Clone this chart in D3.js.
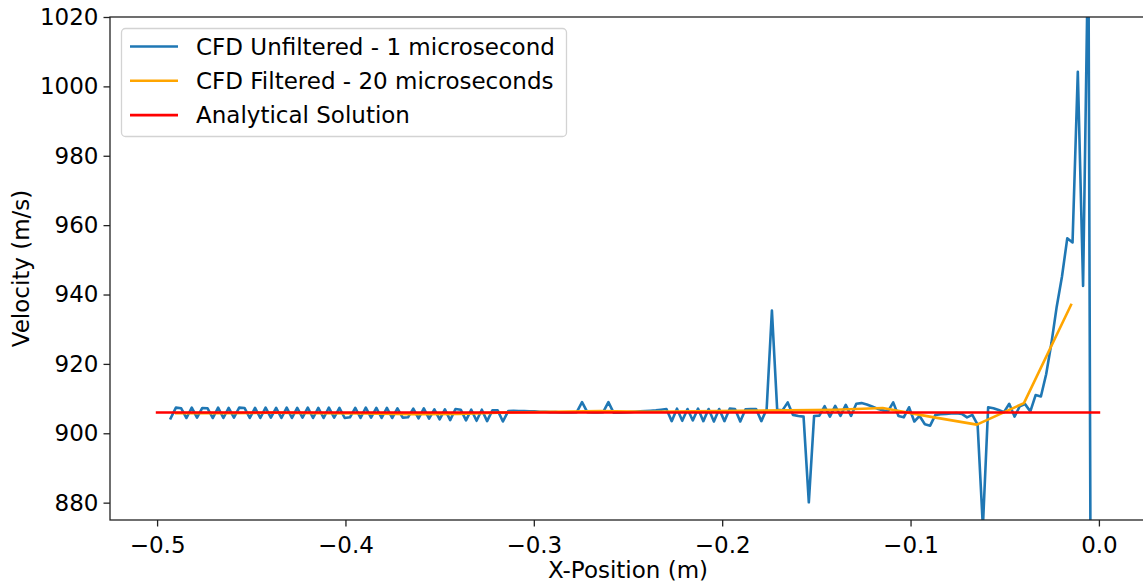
<!DOCTYPE html>
<html>
<head>
<meta charset="utf-8">
<script src="https://cdn.jsdelivr.net/npm/d3@7"></script>
<style>
  html, body { margin: 0; padding: 0; background: #fff; }
  svg { display: block; font-family: "DejaVu Sans", sans-serif; }
</style>
</head>
<body>
<svg id="chart" width="1143" height="584"></svg>
<script>
// Mesh cell-centre positions along the tube (m)
const cellX = [
  -0.4928, -0.4900, -0.4872, -0.4844, -0.4816, -0.4788, -0.4760, -0.4732, -0.4704, -0.4676,
  -0.4648, -0.4620, -0.4592, -0.4564, -0.4536, -0.4508, -0.4480, -0.4452, -0.4424, -0.4396,
  -0.4368, -0.4340, -0.4312, -0.4284, -0.4256, -0.4228, -0.4200, -0.4172, -0.4144, -0.4116,
  -0.4088, -0.4060, -0.4032, -0.4004, -0.3976, -0.3948, -0.3920, -0.3892, -0.3864, -0.3836,
  -0.3808, -0.3780, -0.3752, -0.3724, -0.3696, -0.3668, -0.3640, -0.3612, -0.3584, -0.3556,
  -0.3528, -0.3500, -0.3472, -0.3444, -0.3416, -0.3388, -0.3360, -0.3332, -0.3304, -0.3276,
  -0.3248, -0.3220, -0.3192, -0.3164, -0.3136, -0.3108, -0.3080, -0.3052, -0.3024, -0.2996,
  -0.2968, -0.2940, -0.2912, -0.2884, -0.2856, -0.2828, -0.2800, -0.2772, -0.2744, -0.2716,
  -0.2688, -0.2660, -0.2632, -0.2604, -0.2576, -0.2548, -0.2520, -0.2492, -0.2464, -0.2436,
  -0.2408, -0.2380, -0.2352, -0.2324, -0.2296, -0.2268, -0.2240, -0.2212, -0.2184, -0.2156,
  -0.2128, -0.2100, -0.2072, -0.2044, -0.2016, -0.1988, -0.1960, -0.1932, -0.1904, -0.1876,
  -0.1848, -0.1820, -0.1792, -0.1764, -0.1736, -0.1708, -0.1680, -0.1652, -0.1624, -0.1596,
  -0.1568, -0.1540, -0.1512, -0.1484, -0.1456, -0.1428, -0.1400, -0.1372, -0.1344, -0.1316,
  -0.1288, -0.1260, -0.1232, -0.1204, -0.1176, -0.1148, -0.1120, -0.1092, -0.1064, -0.1036,
  -0.1008, -0.0980, -0.0952, -0.0924, -0.0896, -0.0868, -0.0840, -0.0812, -0.0784, -0.0756,
  -0.0728, -0.0700, -0.0672, -0.0644, -0.0616, -0.0588, -0.0560, -0.0532, -0.0504, -0.0476,
  -0.0448, -0.0420, -0.0392, -0.0364, -0.0336, -0.0308, -0.0280, -0.0252, -0.0224, -0.0196,
  -0.0168, -0.0140, -0.0112, -0.0084, -0.0056, -0.0028
];

// Unfiltered CFD velocity at each cell, 1 microsecond output (m/s)
const unfilteredVelocity = [
  904.3, 907.4, 907.2, 904.4, 907.4, 904.5, 907.3, 907.2, 904.4, 907.4,
  904.4, 907.3, 904.5, 907.4, 907.3, 904.4, 907.3, 904.4, 907.4, 904.5,
  907.3, 904.4, 907.4, 904.4, 907.3, 904.5, 907.4, 904.4, 907.3, 904.4,
  907.4, 904.5, 907.3, 904.4, 904.6, 907.3, 904.4, 907.4, 904.5, 907.3,
  904.4, 907.3, 904.4, 907.2, 904.5, 904.6, 907.1, 904.3, 907.2, 904.2,
  906.9, 904.0, 906.9, 903.8, 907.0, 906.8, 903.7, 906.8, 903.6, 906.8,
  903.5, 906.6, 906.6, 903.4, 906.4, 906.5, 906.4, 906.4, 906.3, 906.3,
  906.2, 906.2, 906.1, 906.1, 906.0, 906.0, 906.0, 906.1, 909.0, 906.1,
  906.0, 906.0, 906.1, 909.0, 905.9, 905.9, 906.0, 906.1, 906.2, 906.3,
  906.4, 906.5, 906.6, 906.8, 907.0, 903.5, 907.1, 903.6, 907.0, 903.7,
  907.1, 903.5, 907.0, 903.4, 907.0, 903.5, 907.1, 907.0, 903.4, 906.9,
  907.0, 907.0, 903.5, 906.9, 935.4, 906.8, 906.6, 908.9, 905.3, 905.0,
  904.8, 880.1, 905.0, 905.1, 907.8, 904.8, 907.9, 905.0, 908.2, 905.0,
  908.5, 908.7, 908.3, 907.7, 907.1, 906.6, 906.3, 908.9, 905.0, 904.6,
  907.5, 903.4, 905.0, 902.6, 902.2, 905.3, 905.5, 905.6, 905.7, 905.8,
  905.6, 904.6, 905.3, 902.5, 873.0, 907.5, 907.2, 906.7, 906.1, 908.5,
  904.8, 907.8, 908.4, 906.3, 911.0, 910.6, 917.0, 926.0, 936.5, 945.2,
  956.2, 955.0, 1004.2, 942.5, 1045.0, 600.0
];

// Filtered CFD velocity, 20 microsecond output (m/s)
const filteredX = [
  -0.4898, -0.4648, -0.4398, -0.4148, -0.3898, -0.3648, -0.3398, -0.3148, -0.2898, -0.2648,
  -0.2398, -0.2148, -0.1898, -0.1648, -0.1398, -0.1148, -0.0898, -0.0648, -0.0398, -0.0148
];
const filteredVelocity = [
  905.8, 905.8, 905.9, 905.8, 905.7, 905.5, 905.6, 906.0, 906.2, 906.4,
  906.2, 906.3, 906.5, 906.6, 906.8, 907.3, 904.8, 902.5, 908.7, 937.0
];

// Analytical post-shock velocity (m/s)
const analyticalX = [-0.5, 0.0];
const analyticalVelocity = [906.0, 906.0];

const xTicks = [-0.5, -0.4, -0.3, -0.2, -0.1, 0.0];
const yTicks = [880, 900, 920, 940, 960, 980, 1000, 1020];

const seriesNames = [
  "CFD Unfiltered - 1 microsecond",
  "CFD Filtered - 20 microseconds",
  "Analytical Solution"
];
const seriesColors = ["#1f77b4", "#ffa500", "#ff0000"];

// ---- layout ----
const plot = { left: 110, right: 1146, top: 17, bottom: 520 };
const FONT = 23;

const svg = d3.select("#chart");

const x = d3.scaleLinear().domain([-0.525, 0.025]).range([plot.left, plot.right]);
const y = d3.scaleLinear().domain([875, 1020]).range([plot.bottom, plot.top]);

svg.append("defs").append("clipPath").attr("id", "plot-clip")
  .append("rect")
  .attr("x", plot.left).attr("y", plot.top)
  .attr("width", plot.right - plot.left).attr("height", plot.bottom - plot.top);

const line = d3.line().x(d => x(d[0])).y(d => y(d[1]));

const series = [
  cellX.map((v, i) => [v, unfilteredVelocity[i]]),
  filteredX.map((v, i) => [v, filteredVelocity[i]]),
  analyticalX.map((v, i) => [v, analyticalVelocity[i]])
];

const lines = svg.append("g").attr("clip-path", "url(#plot-clip)");
series.forEach((pts, k) => {
  lines.append("path")
    .datum(pts)
    .attr("d", line)
    .attr("fill", "none")
    .attr("stroke", seriesColors[k])
    .attr("stroke-width", 2.6)
    .attr("stroke-linejoin", "round")
    .attr("stroke-linecap", "square");
});

// ---- axes ----
const fmtX = d3.format(".1f");

const xAxis = svg.append("g")
  .attr("transform", `translate(0,${plot.bottom})`)
  .call(d3.axisBottom(x).tickValues(xTicks).tickFormat(fmtX).tickSizeOuter(0).tickSize(6.5).tickPadding(5));

const yAxis = svg.append("g")
  .attr("transform", `translate(${plot.left},0)`)
  .call(d3.axisLeft(y).tickValues(yTicks).tickFormat(d3.format("d")).tickSizeOuter(0).tickSize(6.5).tickPadding(5));

[xAxis, yAxis].forEach(g => {
  g.select(".domain").remove();
  g.selectAll(".tick line").attr("stroke", "#222").attr("stroke-width", 1.3);
  g.selectAll(".tick text")
    .attr("fill", "#000")
    .style("font-family", "'DejaVu Sans', sans-serif")
    .style("font-size", FONT + "px");
});
xAxis.selectAll(".tick text").attr("dy", "0.95em");

// spines
svg.append("rect")
  .attr("x", plot.left).attr("y", plot.top)
  .attr("width", plot.right - plot.left).attr("height", plot.bottom - plot.top)
  .attr("fill", "none").attr("stroke", "#222").attr("stroke-width", 1.3);

// axis titles
svg.append("text")
  .attr("x", (plot.left + plot.right) / 2)
  .attr("y", 578)
  .attr("text-anchor", "middle")
  .style("font-size", FONT + "px")
  .text("X-Position (m)");

svg.append("text")
  .attr("transform", `translate(29,${(plot.top + plot.bottom) / 2}) rotate(-90)`)
  .attr("text-anchor", "middle")
  .style("font-size", FONT + "px")
  .text("Velocity (m/s)");

// ---- legend ----
const legend = svg.append("g");
legend.append("rect")
  .attr("x", 121.5).attr("y", 28.5)
  .attr("width", 445).attr("height", 108)
  .attr("rx", 4).attr("ry", 4)
  .attr("fill", "#fff").attr("fill-opacity", 0.8)
  .attr("stroke", "#d3d3d3").attr("stroke-width", 1.3);

seriesNames.forEach((name, k) => {
  const cy = 46.5 + k * 34.3;
  legend.append("line")
    .attr("x1", 130).attr("x2", 178)
    .attr("y1", cy).attr("y2", cy)
    .attr("stroke", seriesColors[k]).attr("stroke-width", 2.6);
  legend.append("text")
    .attr("x", 196).attr("y", cy + 8)
    .style("font-size", FONT + "px")
    .text(name);
});
</script>
</body>
</html>
